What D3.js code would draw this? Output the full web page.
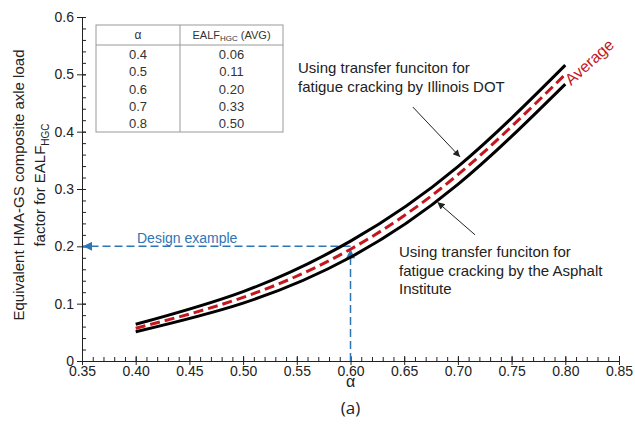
<!DOCTYPE html>
<html>
<head>
<meta charset="utf-8">
<script src="https://cdn.jsdelivr.net/npm/d3@7"></script>
<style>
body { margin: 0; background: #fff; }
text { font-family: "Liberation Sans", Arial, sans-serif; }
</style>
</head>
<body>
<div id="root"></div>
<script>
var width = 635;
var height = 434;

// curves
var alphaValues = [0.4, 0.5, 0.6, 0.7, 0.8];
var illinoisValues = [0.064, 0.121, 0.209, 0.339, 0.516];
var asphaltValues = [0.051, 0.101, 0.181, 0.308, 0.483];
var averageValues = [0.057, 0.111, 0.195, 0.325, 0.500];

// inset table
var tableAlpha = ["0.4", "0.5", "0.6", "0.7", "0.8"];
var tableEalf = ["0.06", "0.11", "0.20", "0.33", "0.50"];

// ticks
var xTicks = [0.35, 0.40, 0.45, 0.50, 0.55, 0.60, 0.65, 0.70, 0.75, 0.80, 0.85];
var yTicks = [0, 0.1, 0.2, 0.3, 0.4, 0.5, 0.6];

// design example
var designAlpha = 0.6;
var designEalf = 0.2;

var svg = d3.select("#root")
.append("svg")
.attr("width", width)
.attr("height", height)
.attr("style", "background-color: white;");

var x = d3.scaleLinear().domain([0.35, 0.85]).range([82, 619]);
var y = d3.scaleLinear().domain([0, 0.6]).range([361, 17]);

var defs = svg.append("defs");
function arrowMarker(id, color, w, h) {
	defs.append("marker")
	.attr("id", id)
	.attr("viewBox", "0 0 10 10")
	.attr("refX", 10)
	.attr("refY", 5)
	.attr("markerUnits", "userSpaceOnUse")
	.attr("markerWidth", w)
	.attr("markerHeight", h)
	.attr("orient", "auto")
	.append("path")
	.attr("d", "M0,0L10,5L0,10Z")
	.attr("fill", color);
}
arrowMarker("blueArrow", "#2e75b6", 10, 9);
arrowMarker("blackArrow", "#222", 9, 7);

/* minor ticks, inside */
var xMinor = d3.axisBottom(x)
.tickValues(d3.range(35, 86).map(function(d){ return d / 100; }))
.tickSize(-4)
.tickFormat("");
svg.append("g")
.attr("transform", "translate(0," + y(0) + ")")
.call(xMinor)
.call(function(g){ g.select(".domain").remove(); });

var yMinor = d3.axisLeft(y)
.tickValues(d3.range(0, 31).map(function(d){ return d / 50; }))
.tickSize(-4)
.tickFormat("");
svg.append("g")
.attr("transform", "translate(" + x(0.35) + ",0)")
.call(yMinor)
.call(function(g){ g.select(".domain").remove(); });

/* major ticks cross the axis */
var xAxis = d3.axisBottom(x)
.tickValues(xTicks)
.tickSizeInner(4)
.tickSizeOuter(0)
.tickPadding(1)
.tickFormat(d3.format(".2f"));
var gx = svg.append("g")
.attr("transform", "translate(0," + y(0) + ")")
.call(xAxis);
gx.selectAll(".tick line").attr("y1", -5);

var yAxis = d3.axisLeft(y)
.tickValues(yTicks)
.tickSizeInner(5)
.tickSizeOuter(0)
.tickPadding(3)
.tickFormat(function(d){ return d === 0 ? "0" : d3.format(".1f")(d); });
var gy = svg.append("g")
.attr("transform", "translate(" + x(0.35) + ",0)")
.call(yAxis);
gy.selectAll(".tick line").attr("x1", 4);

svg.selectAll(".tick text")
.attr("font-size", "14px")
.attr("font-family", "Liberation Sans, Arial, sans-serif")
.attr("fill", "#222");
svg.selectAll(".domain, .tick line").attr("stroke", "#222");

/* axis titles */
svg.append("text")
.attr("x", x(0.6))
.attr("y", 387)
.attr("text-anchor", "middle")
.attr("font-size", "16px")
.attr("fill", "#222")
.text("α");

svg.append("text")
.attr("x", x(0.6))
.attr("y", 414)
.attr("text-anchor", "middle")
.attr("font-size", "17px")
.style("font-family", "Open Sans, sans-serif")
.attr("fill", "#222")
.text("(a)");

var yTitle = svg.append("g")
.attr("transform", "translate(24,185) rotate(-90)");
yTitle.append("text")
.attr("text-anchor", "middle")
.attr("font-size", "15px")
.attr("fill", "#222")
.text("Equivalent HMA-GS composite axle load");
var yTitle2 = yTitle.append("text")
.attr("y", 21)
.attr("text-anchor", "middle")
.attr("font-size", "15px")
.attr("fill", "#222");
yTitle2.append("tspan").text("factor for EALF");
yTitle2.append("tspan").attr("font-size", "10px").attr("dy", 4).text("HGC");

/* design example */
svg.append("line")
.attr("x1", x(designAlpha)).attr("y1", y(0))
.attr("x2", x(designAlpha)).attr("y2", y(designEalf) + 3)
.attr("stroke", "#2e75b6")
.attr("stroke-width", 1.5)
.attr("stroke-dasharray", "8,4")
.attr("marker-end", "url(#blueArrow)");
svg.append("line")
.attr("x1", x(designAlpha)).attr("y1", y(designEalf))
.attr("x2", x(0.35) + 1).attr("y2", y(designEalf))
.attr("stroke", "#2e75b6")
.attr("stroke-width", 1.5)
.attr("stroke-dasharray", "8,4")
.attr("marker-end", "url(#blueArrow)");
svg.append("text")
.attr("x", 137)
.attr("y", 243)
.attr("font-size", "14px")
.attr("fill", "#2e75b6")
.text("Design example");

/* curves */
var curveData = function(vals) {
	return alphaValues.map(function(a, i){ return [a, vals[i]]; });
};
var line = d3.line()
.x(function(d){ return x(d[0]); })
.y(function(d){ return y(d[1]); })
.curve(d3.curveNatural);

svg.append("path")
.datum(curveData(illinoisValues))
.attr("fill", "none")
.attr("stroke", "#000")
.attr("stroke-width", 3)
.attr("d", line);
svg.append("path")
.datum(curveData(asphaltValues))
.attr("fill", "none")
.attr("stroke", "#000")
.attr("stroke-width", 3)
.attr("d", line);
svg.append("path")
.datum(curveData(averageValues))
.attr("fill", "none")
.attr("stroke", "#c4161c")
.attr("stroke-width", 3)
.attr("stroke-dasharray", "10,5")
.attr("d", line);

svg.append("text")
.attr("transform", "translate(571,86) rotate(-42)")
.attr("font-size", "16px")
.attr("fill", "#c4161c")
.text("Average");

/* annotations */
var note1 = ["Using transfer funciton for", "fatigue cracking by Illinois DOT"];
svg.append("g").selectAll("text")
.data(note1)
.enter()
.append("text")
.attr("x", 298)
.attr("y", function(d, i){ return 73 + i * 19; })
.attr("font-size", "15px")
.attr("fill", "#222")
.text(function(d){ return d; });

var note2 = ["Using transfer funciton for", "fatigue cracking by the Asphalt", "Institute"];
svg.append("g").selectAll("text")
.data(note2)
.enter()
.append("text")
.attr("x", 399)
.attr("y", function(d, i){ return 257 + i * 18.5; })
.attr("font-size", "15px")
.attr("fill", "#222")
.text(function(d){ return d; });

svg.append("line")
.attr("x1", x(0.658)).attr("y1", y(0.443))
.attr("x2", x(0.702)).attr("y2", y(0.356))
.attr("stroke", "#222")
.attr("stroke-width", 1)
.attr("marker-end", "url(#blackArrow)");
svg.append("line")
.attr("x1", x(0.716)).attr("y1", y(0.220))
.attr("x2", x(0.681)).attr("y2", y(0.277))
.attr("stroke", "#222")
.attr("stroke-width", 1)
.attr("marker-end", "url(#blackArrow)");

/* inset table */
var table = svg.append("g");
var tx0 = 96, tx1 = 180, tx2 = 283, ty0 = 25, tyh = 45, ty1 = 132;
var rowBand = d3.scaleBand().domain(tableAlpha).range([tyh, ty1]);

table.append("rect")
.attr("x", tx0).attr("y", ty0)
.attr("width", tx2 - tx0).attr("height", ty1 - ty0)
.attr("fill", "white")
.attr("stroke", "#999");
table.append("line")
.attr("x1", tx0).attr("x2", tx2).attr("y1", tyh).attr("y2", tyh)
.attr("stroke", "#999");
table.append("line")
.attr("x1", tx1).attr("x2", tx1).attr("y1", ty0).attr("y2", ty1)
.attr("stroke", "#999");

table.append("text")
.attr("x", (tx0 + tx1) / 2).attr("y", 39)
.attr("text-anchor", "middle")
.attr("font-size", "12px")
.attr("fill", "#333")
.text("α");
var head2 = table.append("text")
.attr("x", (tx1 + tx2) / 2).attr("y", 39)
.attr("text-anchor", "middle")
.attr("font-size", "11px")
.attr("fill", "#333");
head2.append("tspan").text("EALF");
head2.append("tspan").attr("font-size", "8px").attr("dy", 2).text("HGC");
head2.append("tspan").attr("dy", -2).text(" (AVG)");

table.selectAll(".colA")
.data(tableAlpha)
.enter()
.append("text")
.attr("class", "colA")
.attr("x", (tx0 + tx1) / 2)
.attr("y", function(d){ return rowBand(d) + rowBand.bandwidth() / 2 + 5; })
.attr("text-anchor", "middle")
.attr("font-size", "13px")
.attr("fill", "#333")
.text(function(d){ return d; });

table.selectAll(".colB")
.data(tableEalf)
.enter()
.append("text")
.attr("class", "colB")
.attr("x", (tx1 + tx2) / 2)
.attr("y", function(d, i){ return rowBand(tableAlpha[i]) + rowBand.bandwidth() / 2 + 5; })
.attr("text-anchor", "middle")
.attr("font-size", "13px")
.attr("fill", "#333")
.text(function(d){ return d; });
</script>
</body>
</html>
